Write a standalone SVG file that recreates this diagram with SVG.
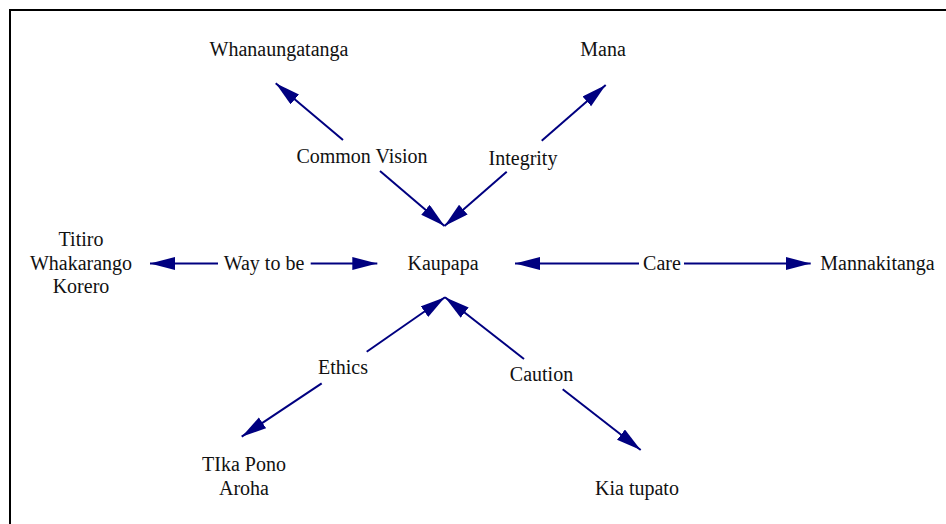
<svg xmlns="http://www.w3.org/2000/svg" width="946" height="524" viewBox="0 0 946 524">
<style>
.t text{font-size:20px;fill:#111;text-anchor:middle}
.e{stroke:#000080;stroke-width:2;fill:none;marker-end:url(#ah)}
</style>
<defs>
<marker id="ah" markerUnits="userSpaceOnUse" markerWidth="26" markerHeight="14" refX="25" refY="6.5" orient="auto">
<path d="M0,0 L25,6.5 L0,13 z" fill="#000080"/>
</marker>
</defs>
<rect width="946" height="524" fill="#fff"/>
<path d="M10,524 V10 H946" fill="none" stroke="#000" stroke-width="2"/>
<g class="t" font-family="'Liberation Serif', 'DejaVu Serif', serif">
<g id="connectors">
<line class="e" x1="343" y1="140" x2="275.7" y2="83.3"/>
<line class="e" x1="380" y1="171" x2="444.5" y2="226"/>
<text x="362" y="162.5">Common Vision</text>
<line class="e" x1="541.7" y1="140.7" x2="605.7" y2="85"/>
<line class="e" x1="506.7" y1="171.7" x2="444.5" y2="226"/>
<text x="523" y="165">Integrity</text>
<line class="e" x1="218" y1="263.5" x2="150" y2="263.5"/>
<line class="e" x1="310.7" y1="263.5" x2="377.3" y2="263.5"/>
<text x="264" y="270">Way to be</text>
<line class="e" x1="639" y1="263.5" x2="515" y2="263.5"/>
<line class="e" x1="684" y1="263.5" x2="810.7" y2="263.5"/>
<text x="662" y="270">Care</text>
<line class="e" x1="366.7" y1="351.7" x2="445" y2="297.3"/>
<line class="e" x1="321.7" y1="383.3" x2="241.7" y2="436.7"/>
<text x="343" y="374">Ethics</text>
<line class="e" x1="524" y1="359" x2="445" y2="297.3"/>
<line class="e" x1="562.7" y1="389.3" x2="640.7" y2="450"/>
<text x="541.5" y="381">Caution</text>
</g>
<g id="kaupapa"><text x="443" y="270">Kaupapa</text></g>
<g id="whanaungatanga"><text x="279" y="56">Whanaungatanga</text></g>
<g id="mana"><text x="603" y="56">Mana</text></g>
<g id="titiro"><text x="81" y="246">Titiro</text><text x="81" y="269.5">Whakarango</text><text x="81" y="293">Korero</text></g>
<g id="mannakitanga"><text x="877.5" y="270">Mannakitanga</text></g>
<g id="tika"><text x="244" y="471">TIka Pono</text><text x="244" y="495">Aroha</text></g>
<g id="kiatupato"><text x="637" y="495">Kia tupato</text></g>
</g>
</svg>
